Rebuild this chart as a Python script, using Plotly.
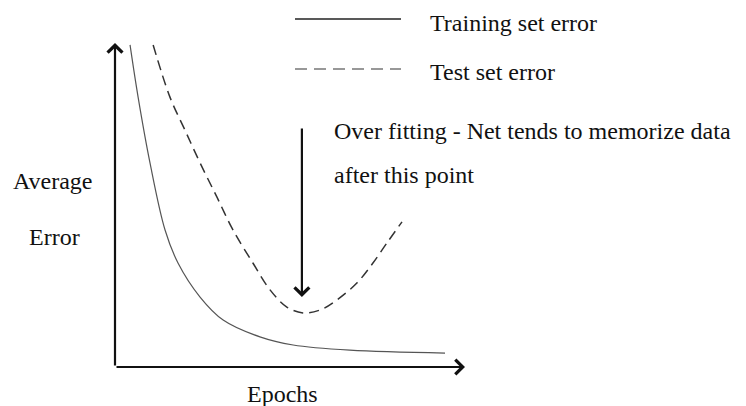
import plotly.graph_objects as go

# curves (epochs vs average error, arbitrary units 0-10)
train_epochs = [0.43, 0.66, 1.0, 1.43, 1.8, 2.43, 3.09, 4.14, 5.09, 6.71, 9.43]
train_error = [9.94, 8.33, 6.30, 4.23, 3.21, 2.16, 1.45, 0.93, 0.68, 0.52, 0.43]

test_epochs = [1.09, 1.57, 2.0, 2.43, 2.91, 3.37, 3.94, 4.43, 4.91, 5.37, 5.86,
               6.34, 6.91, 7.37, 7.77, 8.2]
test_error = [9.94, 8.33, 7.31, 6.30, 5.25, 4.23, 3.21, 2.38, 1.85, 1.67, 1.76,
              2.07, 2.59, 3.21, 3.83, 4.48]

overfit_epoch = 5.34
overfit_from, overfit_to = 7.41, 2.16

W, H = 746, 406
L, R, T, B = 115, 281, 43, 39
FONT = "Liberation Serif"


def paper(px, py):
    return (px - L) / (W - L - R), (H - B - py) / (H - T - B)


fig = go.Figure()
fig.add_trace(go.Scatter(
    x=train_epochs, y=train_error, mode="lines", line_shape="spline",
    line=dict(color="#555555", width=1.2), showlegend=False, hoverinfo="skip",
))
fig.add_trace(go.Scatter(
    x=test_epochs, y=test_error, mode="lines", line_shape="spline",
    line=dict(color="#333333", width=1.5, dash="10px,6px"), showlegend=False,
    hoverinfo="skip",
))

# axes as arrows
for x, y in [(10, 0), (0, 10)]:
    fig.add_annotation(
        x=x, y=y, ax=0, ay=0, xref="x", yref="y", axref="x", ayref="y",
        text="", showarrow=True, arrowhead=4, arrowsize=1.3, arrowwidth=2.2,
        arrowcolor="#111111", standoff=0,
    )
# over fitting pointer
fig.add_annotation(
    x=overfit_epoch, y=overfit_to, ax=overfit_epoch, ay=overfit_from,
    xref="x", yref="y", axref="x", ayref="y",
    text="", showarrow=True, arrowhead=4, arrowsize=1.3, arrowwidth=2.2,
    arrowcolor="#111111", standoff=0,
)

# legend samples
for py, dash, color in [(19, "solid", "#222222"), (69, "12px,7px", "#777777")]:
    x0, y0 = paper(295, py)
    x1, _ = paper(401, py)
    fig.add_shape(type="line", xref="paper", yref="paper", x0=x0, x1=x1, y0=y0, y1=y0,
                  line=dict(color=color, width=1.5, dash=dash))

texts = [
    ("Training set error", 428, 23, "left"),
    ("Test set error", 428, 72, "left"),
    ("Over fitting - Net tends to memorize data", 332, 131, "left"),
    ("after this point", 332, 175, "left"),
    ("Average", 53, 181, "center"),
    ("Error", 54, 237, "center"),
    ("Epochs", 282, 394, "center"),
]
for txt, px, py, anchor in texts:
    x, y = paper(px, py)
    fig.add_annotation(
        x=x, y=y, xref="paper", yref="paper", text=txt, showarrow=False,
        xanchor=anchor, yanchor="middle", font=dict(family=FONT, size=24, color="#111111"),
    )

fig.update_layout(
    width=W, height=H,
    margin=dict(l=L, r=R, t=T, b=B),
    paper_bgcolor="white", plot_bgcolor="white",
    xaxis=dict(range=[0, 10], visible=False),
    yaxis=dict(range=[0, 10], visible=False),
)
fig.write_html("out.html", config={"displayModeBar": False},
               post_script="document.body.style.margin='0';")
